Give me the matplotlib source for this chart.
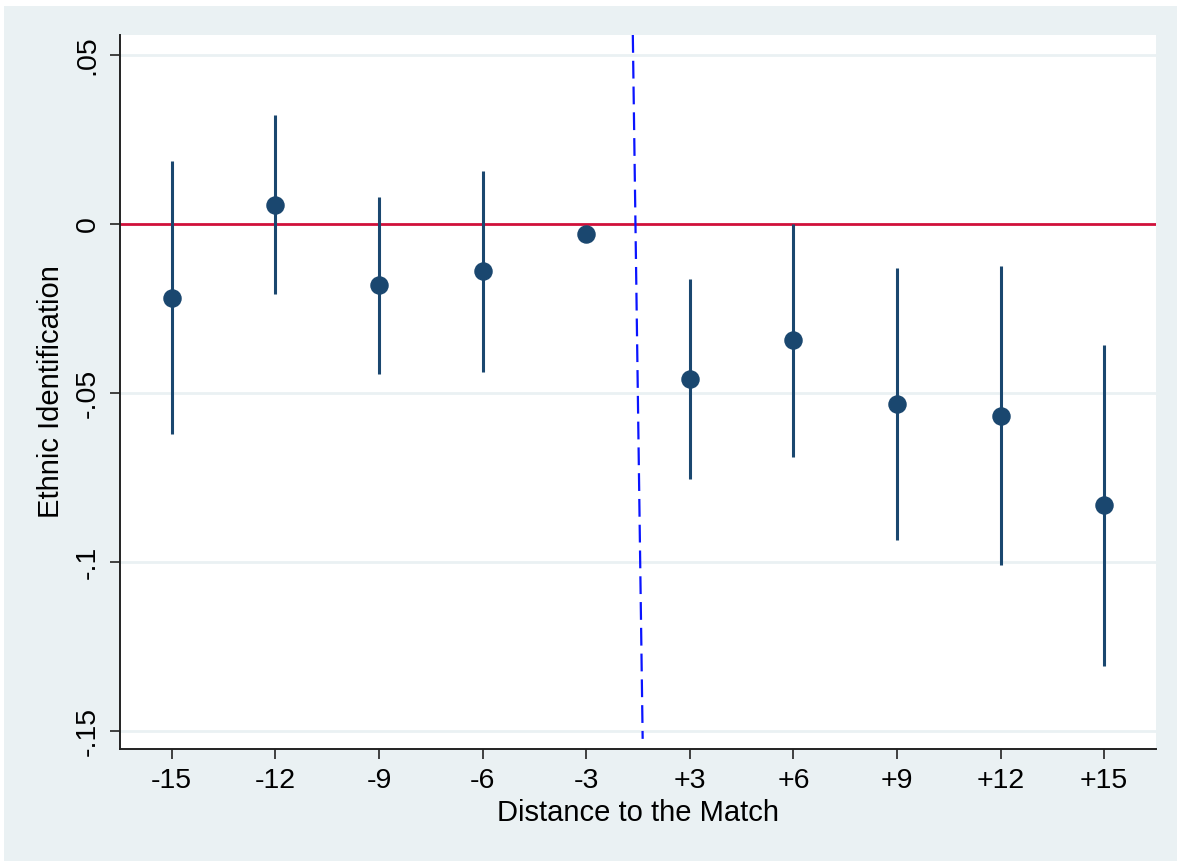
import matplotlib.pyplot as plt
import matplotlib.patches as mpatches

# event-study estimates, months relative to the match
labels = ["-15", "-12", "-9", "-6", "-3", "+3", "+6", "+9", "+12", "+15"]
coef = [-0.0220, 0.0056, -0.0181, -0.0139, -0.0031, -0.0459, -0.0343, -0.0533, -0.0567, -0.0831]
ci_hi = [0.0186, 0.0322, 0.0080, 0.0157, None, -0.0163, 0.0000, -0.0131, -0.0124, -0.0358]
ci_lo = [-0.0622, -0.0208, -0.0444, -0.0438, None, -0.0754, -0.0688, -0.0935, -0.1009, -0.1308]

yticks = [0.05, 0, -0.05, -0.1, -0.15]
ytick_labels = [".05", "0", "-.05", "-.1", "-.15"]
ylim = (-0.1553, 0.0559)

# slanted dashed line marking the match
match_x = [4.45, 4.545]

plt.rcParams["font.family"] = ["Liberation Sans", "DejaVu Sans"]

bg = "#EAF1F3"
navy = "#1A476F"

fig = plt.figure(figsize=(11.77, 8.61), dpi=100, facecolor="white")
fig.patches.append(mpatches.Rectangle((4 / 1177, 0), 1, 1 - 6 / 861,
                                      transform=fig.transFigure, facecolor=bg,
                                      edgecolor="none", zorder=-10))
ax = fig.add_axes([120 / 1177, 1 - 749 / 861, (1156 - 120) / 1177, (749 - 35) / 861])
ax.set_facecolor("white")

xs = list(range(len(labels)))

for g in [0.05, -0.05, -0.1, -0.15]:
    ax.axhline(g, color=bg, lw=2, zorder=1)
ax.axhline(0, color="#D0103A", lw=2, zorder=2)

for x, lo, hi in zip(xs, ci_lo, ci_hi):
    if lo is not None:
        ax.plot([x, x], [lo, hi], color=navy, lw=2.2, solid_capstyle="butt", zorder=3)
ax.plot(xs, coef, "o", color=navy, ms=12.3, zorder=4)

ax.plot(match_x, [ylim[1], ylim[0] + 0.003], color="#0A14FF", lw=1.6,
        dashes=(8, 3.6), zorder=5)

ax.set_xlim(-0.5, 9.5)
ax.set_ylim(*ylim)
ax.set_xticks(xs)
ax.set_xticklabels(labels, fontsize=20.5)
ax.set_yticks(yticks)
ax.set_yticklabels(ytick_labels, fontsize=20.5, rotation=90, va="center")
ax.tick_params(axis="both", length=7, width=1.2, color="#222222", pad=7)

for s in ["top", "right"]:
    ax.spines[s].set_visible(False)
for s in ["left", "bottom"]:
    ax.spines[s].set_linewidth(1.4)
    ax.spines[s].set_color("#222222")

ax.set_xlabel("Distance to the Match", fontsize=21, labelpad=3)
ax.set_ylabel("Ethnic Identification", fontsize=21, labelpad=7)

fig.savefig("out.png", dpi=100, facecolor=fig.get_facecolor())
